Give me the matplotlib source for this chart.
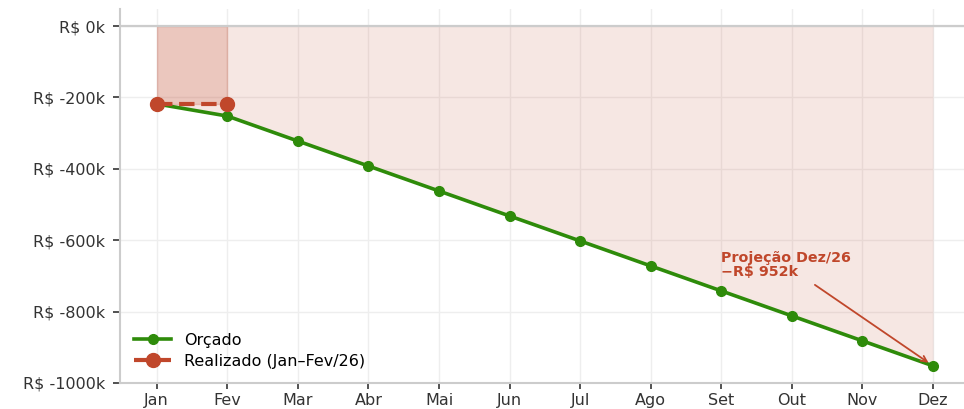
import numpy as np
import matplotlib
matplotlib.use('Agg')
import matplotlib.pyplot as plt
from matplotlib.ticker import FuncFormatter

plt.rcParams['font.family'] = ['DejaVu Sans']

meses = ['Jan', 'Fev', 'Mar', 'Abr', 'Mai', 'Jun', 'Jul', 'Ago', 'Set', 'Out', 'Nov', 'Dez']
orcado = [-218000, -252000, -322000, -392000, -462000, -532000,
          -602000, -672000, -742000, -812000, -882000, -952000]
realizado = [-218000, -218000]

verde = '#2e8b0a'
vermelho = '#c0472b'

x = np.arange(len(meses))
xr = x[:len(realizado)]

fig = plt.figure(figsize=(9.64, 4.09), dpi=100)
ax = fig.add_axes([0.1245, 0.0636, 0.88, 0.9144])

# areas
ax.fill_between(x, 0, orcado, color=vermelho, alpha=0.13, linewidth=0)
ax.fill_between(xr, 0, realizado, color=vermelho, alpha=0.2)

ax.axhline(0, color='#cccccc', lw=1.6, zorder=1)

ax.plot(x, orcado, color=verde, lw=2.6, marker='o', ms=7, label='Orçado', zorder=3)
ax.plot(xr, realizado, color=vermelho, lw=3, ls='--', marker='o', ms=10,
        label='Realizado (Jan–Fev/26)', zorder=4)

ax.annotate('Projeção Dez/26\n−R$ 952k', xy=(x[-1], orcado[-1]),
            xytext=(8.0, -670000), ha='left', va='center',
            fontsize=10.3, fontweight='bold', color=vermelho, linespacing=0.95,
            arrowprops=dict(arrowstyle='->', color=vermelho, lw=1.3,
                            shrinkA=4, shrinkB=4))

ax.set_xlim(-0.52, 11.5)
ax.set_ylim(-1000000, 48000)
ax.set_xticks(x)
ax.set_xticklabels(meses)
ax.set_yticks([0, -200000, -400000, -600000, -800000, -1000000])
ax.yaxis.set_major_formatter(FuncFormatter(lambda v, p: f'R$ {v/1000:.0f}k'))

ax.grid(True, color='#eeeeee', lw=1)
ax.set_axisbelow(True)
for s in ['top', 'right']:
    ax.spines[s].set_visible(False)
for s in ['left', 'bottom']:
    ax.spines[s].set_color('#cccccc')
    ax.spines[s].set_linewidth(1.5)
ax.tick_params(axis='both', labelsize=11.5, colors='#333333', width=1.2)
ax.tick_params(axis='x', length=4, pad=3)
ax.tick_params(axis='y', length=5, pad=5.5)

ax.legend(loc='lower left', frameon=False, fontsize=11.5, bbox_to_anchor=(0.0, 0.0),
          handlelength=2.3, labelspacing=0.35)

fig.savefig('out.png', dpi=100)
